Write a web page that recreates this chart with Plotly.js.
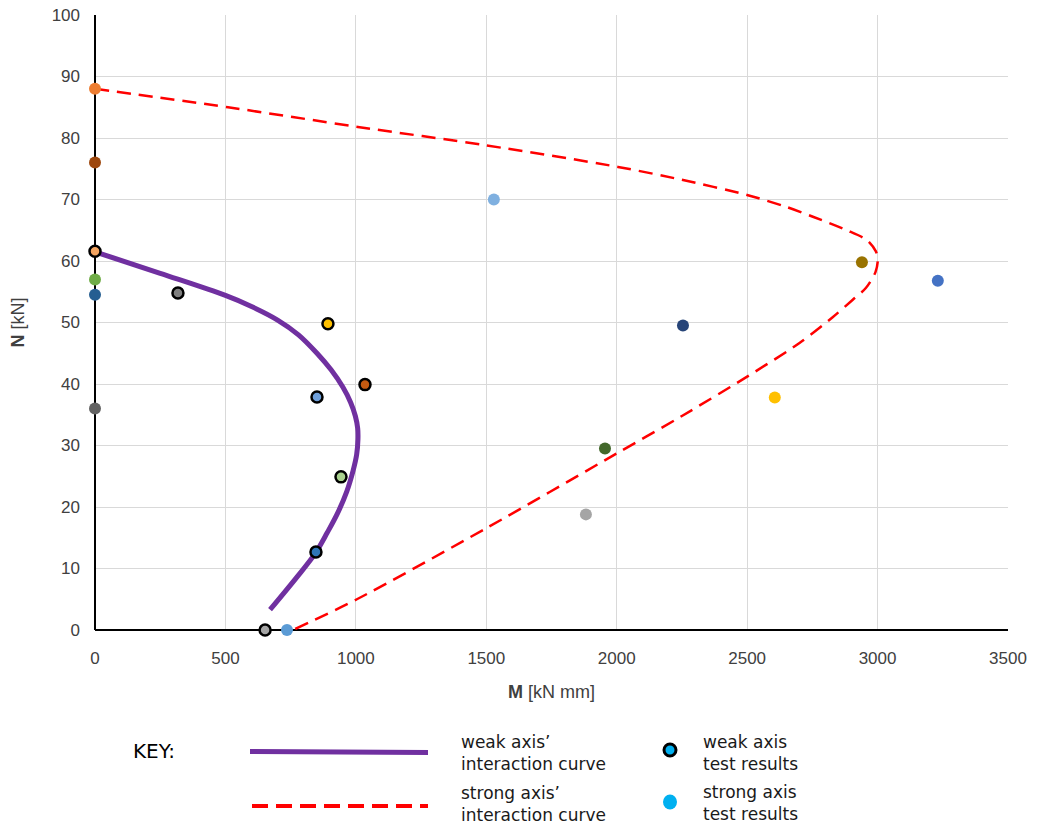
<!DOCTYPE html>
<html>
<head>
<meta charset="utf-8">
<script src="https://cdn.plot.ly/plotly-3.0.1.min.js"></script>
<style>html,body{margin:0;padding:0;background:#fff;}#chart{width:1042px;height:825px;}</style>
</head>
<body>
<div id="chart"></div>
<script>
// Weak axis interaction curve (M in kN mm, N in kN)
const weakCurveM = [0, 250, 500, 600, 700, 780, 851, 905, 950, 980, 998, 1007, 1008, 1003, 990, 965, 930, 890, 845, 774, 671];
const weakCurveN = [61.5, 58.0, 54.4, 52.6, 50.4, 48.0, 45.0, 42.3, 39.5, 37.0, 34.8, 32.8, 31.0, 28.5, 26.0, 22.5, 19.0, 15.8, 12.5, 8.6, 3.3];

// Strong axis interaction curve
const strongCurveM = [0, 510, 1008, 1500, 2005, 2250, 2503, 2650, 2752, 2882, 2959, 2993, 3001, 2992, 2955, 2905, 2829, 2702, 2500, 2250, 2012, 1506, 1004, 759];
const strongCurveN = [88.0, 85.0, 81.8, 78.8, 75.3, 73.2, 70.7, 68.8, 67.2, 65.0, 63.4, 61.6, 60.3, 58.2, 55.6, 53.7, 50.9, 46.7, 41.2, 34.8, 29.0, 16.7, 5.0, 0];

// Weak axis test results
const weakTestM = [0, 318, 893, 1035, 851, 943, 847, 652];
const weakTestN = [61.6, 54.8, 49.8, 39.9, 37.9, 24.9, 12.7, 0];
const weakTestColors = ['#F4A460', '#7F7F7F', '#FFC000', '#C55A11', '#6E9FDA', '#A9D18E', '#2E75B6', '#A5A5A5'];

// Strong axis test results
const strongTestM = [0, 0, 0, 0, 0, 1529, 2940, 3231, 2254, 1955, 2606, 1882, 736];
const strongTestN = [88, 76, 57, 54.5, 36, 70, 59.8, 56.8, 49.5, 29.5, 37.8, 18.8, 0];
const strongTestColors = ['#ED7D31', '#9E480E', '#70AD47', '#255E91', '#636363', '#7FB0E0', '#997300', '#4472C4', '#264478', '#43682B', '#FFC000', '#A5A5A5', '#5B9BD5'];

// Key texts
const keyTitle = 'KEY:';
const keyWeakCurve = 'weak axis\u2019<br>interaction curve';
const keyStrongCurve = 'strong axis\u2019<br>interaction curve';
const keyWeakTest = 'weak axis<br>test results';
const keyStrongTest = 'strong axis<br>test results';

const traces = [
  {x: weakCurveM, y: weakCurveN, mode: 'lines', type: 'scatter',
   line: {color: '#7030A0', width: 5, shape: 'spline', smoothing: 1}, hoverinfo: 'skip'},
  {x: strongCurveM, y: strongCurveN, mode: 'lines', type: 'scatter',
   line: {color: '#FF0000', width: 2.5, dash: '14px,8px', shape: 'spline', smoothing: 0.8}, hoverinfo: 'skip'},
  {x: strongTestM, y: strongTestN, mode: 'markers', type: 'scatter', cliponaxis: false,
   marker: {size: 12, color: strongTestColors, line: {width: 0}}},
  {x: weakTestM, y: weakTestN, mode: 'markers', type: 'scatter', cliponaxis: false,
   marker: {size: 11, color: weakTestColors, line: {color: '#000000', width: 2.5}}}
];

// helpers: pixel -> paper (plot area 95..1008 x, 15..630 y)
const px = v => (v - 95) / 913;
const py = v => (630 - v) / 615;

const keyFont = {family: 'DejaVu Sans, Liberation Sans, Arial, sans-serif', size: 17, color: '#1a1a1a'};
function keyText(t, x, y) {
  return {xref: 'paper', yref: 'paper', x: px(x), y: py(y), text: t, showarrow: false,
          xanchor: 'left', yanchor: 'middle', align: 'left', font: keyFont};
}

const annotations = [
  Object.assign(keyText(keyTitle, 131, 751), {font: {family: 'DejaVu Sans, Liberation Sans, Arial, sans-serif', size: 20, color: '#000'}}),
  keyText(keyWeakCurve, 459, 753),
  keyText(keyStrongCurve, 459, 804),
  keyText(keyWeakTest, 701, 753),
  keyText(keyStrongTest, 701, 803)
];

const shapes = [
  {type: 'line', xref: 'paper', yref: 'paper', x0: px(250), x1: px(428), y0: py(751.5), y1: py(752.5),
   line: {color: '#7030A0', width: 5}},
  {type: 'line', xref: 'paper', yref: 'paper', x0: px(252), x1: px(428), y0: py(806), y1: py(806),
   line: {color: '#FF0000', width: 4, dash: '16px,8px'}},
  {type: 'circle', xref: 'paper', yref: 'paper', xsizemode: 'pixel', ysizemode: 'pixel',
   xanchor: px(670), yanchor: py(750), x0: -6, x1: 6, y0: -6, y1: 6,
   fillcolor: '#00B0F0', line: {color: '#000', width: 3}},
  {type: 'circle', xref: 'paper', yref: 'paper', xsizemode: 'pixel', ysizemode: 'pixel',
   xanchor: px(670), yanchor: py(802), x0: -7, x1: 7, y0: -7.5, y1: 7.5,
   fillcolor: '#00B0F0', line: {width: 0}}
];

const tickFont = {family: 'Liberation Sans Narrow, Arial Narrow, Liberation Sans, Arial, sans-serif', size: 17, color: '#404040'};
const titleFont = {family: 'Liberation Sans Narrow, Arial Narrow, Liberation Sans, Arial, sans-serif', size: 18, color: '#404040'};

const layout = {
  width: 1042, height: 825,
  margin: {l: 95, r: 34, t: 15, b: 195},
  paper_bgcolor: '#ffffff', plot_bgcolor: '#ffffff',
  showlegend: false,
  xaxis: {
    range: [0, 3500], dtick: 500, tick0: 0,
    showgrid: true, gridcolor: '#D9D9D9', gridwidth: 1,
    zeroline: true, zerolinecolor: '#000000', zerolinewidth: 2,
    showline: false, ticks: '', tickfont: tickFont, ticklabelstandoff: 16,
    title: {text: '<b>M</b> [kN mm]', font: titleFont, standoff: 18},
    automargin: false, fixedrange: true
  },
  yaxis: {
    range: [0, 100], dtick: 10, tick0: 0,
    showgrid: true, gridcolor: '#D9D9D9', gridwidth: 1,
    zeroline: true, zerolinecolor: '#000000', zerolinewidth: 2,
    showline: false, ticks: '', tickfont: tickFont, ticklabelstandoff: 14,
    title: {text: '<b>N</b> [kN]', font: titleFont, standoff: 22},
    automargin: false, fixedrange: true
  },
  annotations: annotations,
  shapes: shapes
};

Plotly.newPlot('chart', traces, layout, {displayModeBar: false, staticPlot: true});
</script>
</body>
</html>
